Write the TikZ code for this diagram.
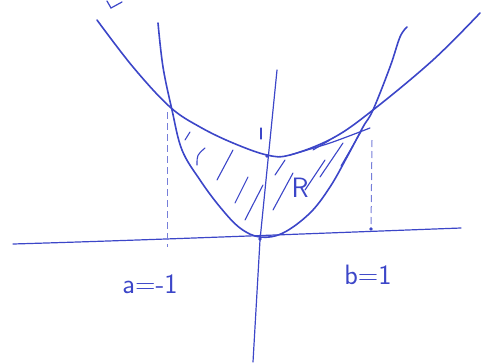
\documentclass[tikz,border=0pt]{standalone}
\begin{document}
\begin{tikzpicture}[x=1pt,y=-1pt,
  pen/.style={draw=penblue,line width=1.6pt,line cap=round,line join=round},
  thin pen/.style={draw=penblue,line width=1.2pt,line cap=round},
  dashpen/.style={draw=penblue!70,line width=1.0pt,dash pattern=on 7pt off 4pt},
  hatch/.style={draw=penblue,line width=1.1pt,line cap=round},
  lbl/.style={text=penblue,font=\sffamily\fontsize{28}{28}\selectfont,inner sep=0pt}]
\definecolor{penblue}{RGB}{60,70,200}
\useasboundingbox (0,0) rectangle (482,362);
% axes
\coordinate (xl) at (13,244);
\coordinate (xr) at (461,228);
\coordinate (yt) at (277,70);
\coordinate (yb) at (253,362);
\draw[thin pen] (xl) .. controls (150,240) and (300,234) .. (xr);
\draw[thin pen] (yt) -- (260,240) -- (yb);
% upper wide parabola
\draw[pen] plot[smooth,tension=0.6] coordinates {(97,20) (133,67) (170,107) (200,127) (233,143) (267,155) (290,155) (333,138) (373,110) (433,60) (480,13)};
% second stroke of upper curve
\draw[thin pen] plot[smooth] coordinates {(290,155) (330,143) (370,128)};
% lower narrow parabola
\draw[pen] plot[smooth,tension=0.6] coordinates {(158,23) (163,67) (172,110) (182,150) (200,180) (220,207) (240,228) (260,237) (283,233) (310,213) (330,187) (347,157) (363,127) (373,110) (390,67) (400,37) (407,27)};
% dashed verticals
\coordinate (al) at (167,247);
\coordinate (bl) at (371,229);
\draw[dashpen] (167,112) -- (al);
\draw[dashpen] (372,140) -- (bl);
\fill[penblue] (bl) circle (1.8pt);
\fill[penblue] (267,156) circle (1.8pt);
\fill[penblue] (260,239) circle (1.8pt);
% tick "1" on y axis
\draw[thin pen] (261,128) -- (261,139);
% top fragment
\draw[thin pen] (107,1) -- (111,8) -- (122,2);
% hatching
\draw[hatch] (185,140) -- (190,132);
\draw[hatch] (197,165) .. controls (197,155) .. (205,148);
\draw[hatch] (217,180) -- (233,150);
\draw[hatch] (235,203) -- (248,177);
\draw[hatch] (245,220) -- (263,185);
\draw[hatch] (273,210) -- (293,173);
\draw[hatch] (285,160) -- (275,175);
\draw[hatch] (305,190) -- (325,160);
\draw[hatch] (320,177) -- (343,143);
\draw[hatch] (313,150) -- (330,140);
\draw[hatch] (341,166) -- (362,130);
% labels
\node[lbl] (a) at (150,284) {a=-1};
\node[lbl] (b) at (368,275) {b=1};
\node[lbl] (R) at (300,188) {R};
\end{tikzpicture}
\end{document}
